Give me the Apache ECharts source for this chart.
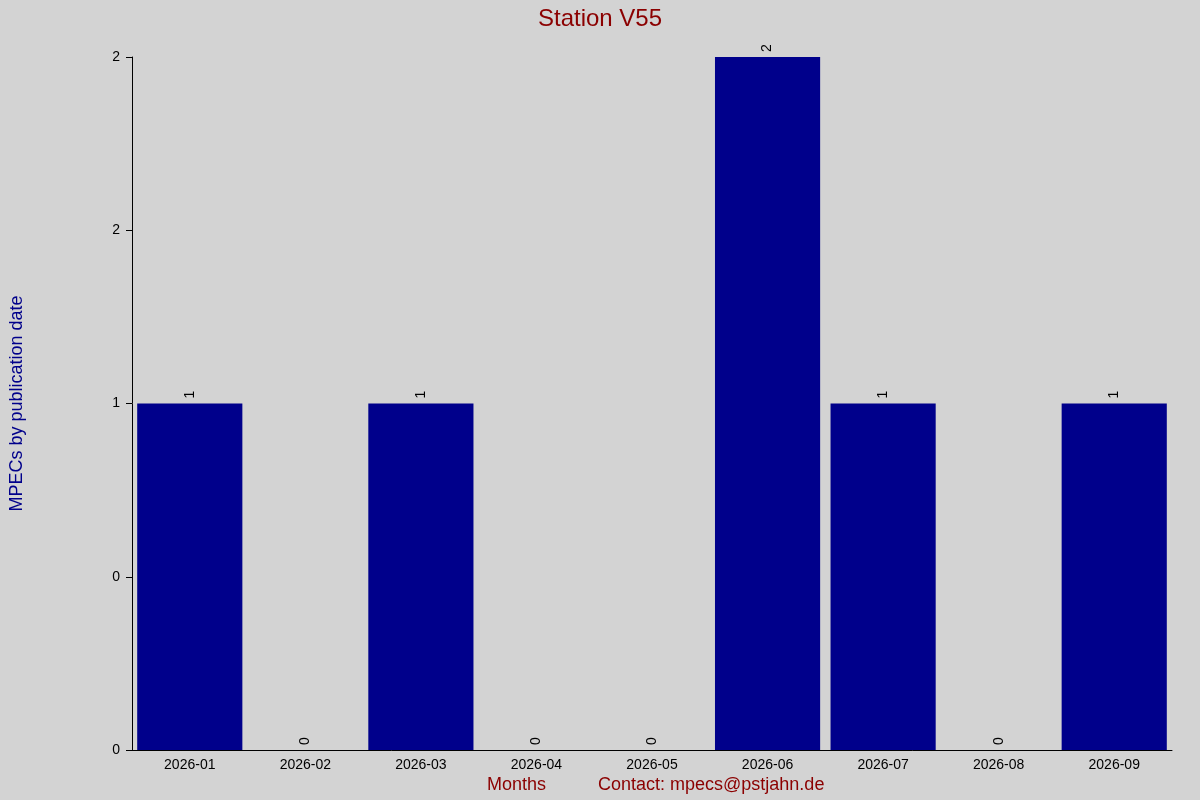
<!DOCTYPE html>
<html><head><meta charset="utf-8">
<script src="https://cdn.jsdelivr.net/npm/echarts@6/dist/echarts.min.js"></script>
<style>html,body{margin:0;background:#d3d3d3}#c{width:1200px;height:800px}</style>
</head><body><div id="c"></div>
<script>
const categories=["2026-01","2026-02","2026-03","2026-04","2026-05","2026-06","2026-07","2026-08","2026-09"];
const values=[1,0,1,0,0,2,1,0,1];
const yTickLabels=["0","0","1","2","2"];
const chart=echarts.init(document.getElementById('c'));
chart.setOption({
  backgroundColor:'#d3d3d3',
  animation:false,
  title:{text:'Station V55',left:'center',top:2,textStyle:{color:'#8b0000',fontSize:24,fontWeight:'normal',fontFamily:'Liberation Sans'}},
  graphic:[
    {type:'text',left:487,top:776,style:{text:'Months',fill:'#8b0000',font:'18px Liberation Sans'}},
    {type:'text',left:598,top:776,style:{text:'Contact: mpecs@pstjahn.de',fill:'#8b0000',font:'18px Liberation Sans'}}
  ],
  grid:{left:126,right:28,top:57,bottom:50},
  xAxis:{type:'category',data:categories,axisTick:{show:false},
    axisLine:{lineStyle:{color:'#000'}},
    axisLabel:{color:'#000',fontSize:14,fontFamily:'Liberation Sans',margin:8}},
  yAxis:{type:'value',min:0,max:2,interval:0.5,name:'MPECs by publication date',nameLocation:'middle',nameGap:106,
    nameTextStyle:{color:'#00008b',fontSize:18,fontFamily:'Liberation Sans'},
    axisLine:{show:true,lineStyle:{color:'#000'}},axisTick:{show:true,length:6,lineStyle:{color:'#000'}},
    splitLine:{show:false},
    axisLabel:{color:'#000',fontSize:14,fontFamily:'Liberation Sans',margin:12,
      formatter:(v)=>yTickLabels[Math.round(v/0.5)]}},
  series:[{type:'bar',data:values,barCategoryGap:'9%',itemStyle:{color:'#00008b'},
    label:{show:true,position:'top',rotate:90,align:'left',verticalAlign:'middle',distance:5,color:'#000',fontSize:14,fontFamily:'Liberation Sans'}}]
});
</script></body></html>
